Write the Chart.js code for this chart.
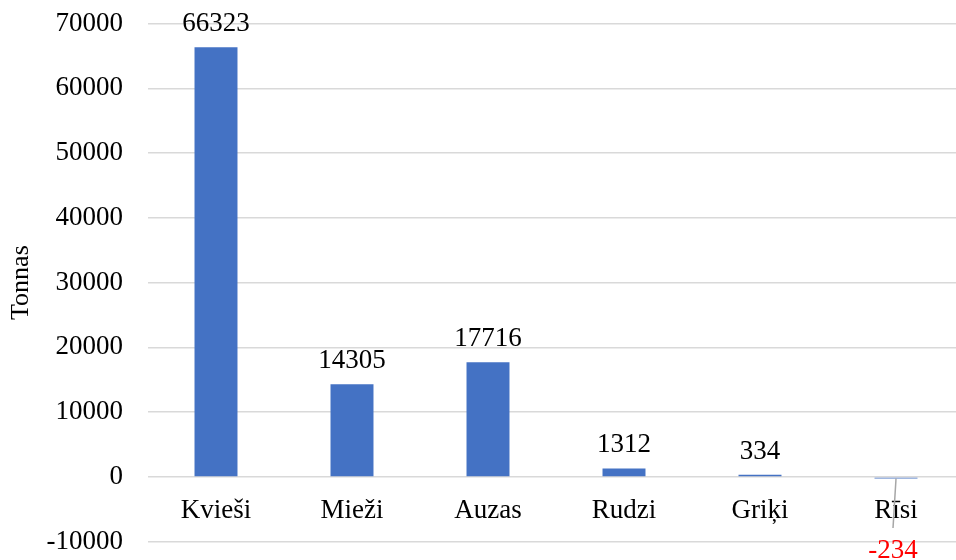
<!DOCTYPE html>
<html lang="lv">

<head>
  <meta charset="utf-8">
  <title>Graudaugi</title>
  <script src="https://cdn.jsdelivr.net/npm/chart.js@4.4.1/dist/chart.umd.min.js"></script>
  <style>
    html, body { margin: 0; padding: 0; overflow: hidden; background: #fff; }
    .chart-box { width: 966px; height: 560px; }
  </style>
</head>

<body>
  <div class="chart-box">
    <canvas id="grainChart"></canvas>
  </div>

  <script type="text/javascript">
    var categories = ['Kvieši', 'Mieži', 'Auzas', 'Rudzi', 'Griķi', 'Rīsi'];
    var tonnes = [66323, 14305, 17716, 1312, 334, -234];
    var yTicks = [-10000, 0, 10000, 20000, 30000, 40000, 50000, 60000, 70000];

    var serif = '"Liberation Serif", "Times New Roman", serif';

    // labels above the bars, negative one below with a leader line
    var barLabels = {
      id: 'barLabels',
      afterDatasetsDraw: function (chart) {
        var ctx = chart.ctx;
        var meta = chart.getDatasetMeta(0);
        var zeroY = chart.scales.y.getPixelForValue(0);
        ctx.save();
        ctx.font = '27px ' + serif;
        ctx.textAlign = 'center';
        ctx.textBaseline = 'alphabetic';
        meta.data.forEach(function (bar, i) {
          var v = tonnes[i];
          if (v >= 0) {
            ctx.fillStyle = '#000';
            ctx.fillText(String(v), bar.x, bar.y - 16);
          } else {
            ctx.strokeStyle = '#a6a6a6';
            ctx.lineWidth = 1.5;
            ctx.beginPath();
            ctx.moveTo(bar.x, bar.y);
            ctx.lineTo(bar.x - 3, zeroY + 51);
            ctx.stroke();
            ctx.fillStyle = '#ff0000';
            ctx.fillText(String(v), bar.x - 3, zeroY + 81);
          }
        });
        ctx.restore();
      }
    };

    new Chart(document.getElementById('grainChart').getContext('2d'), {
      type: 'bar',
      data: {
        labels: categories,
        datasets: [{
          label: 'Tonnas',
          data: tonnes,
          backgroundColor: '#4472c4',
          borderWidth: 0,
          categoryPercentage: 1,
          barPercentage: 0.316
        }]
      },
      options: {
        responsive: true,
        maintainAspectRatio: false,
        animation: false,
        layout: { padding: { top: 23.5, bottom: 18.3, left: 0, right: 2 } },
        plugins: {
          legend: { display: false },
          tooltip: { enabled: false }
        },
        scales: {
          x: {
            position: { y: 0 },
            afterFit: function (scale) {
              scale.height = 0;
              scale.paddingTop = 0;
              scale.paddingBottom = 0;
            },
            grid: { display: false, drawTicks: false },
            border: { display: false },
            ticks: {
              color: '#000',
              padding: 18,
              font: { family: serif, size: 27 }
            }
          },
          y: {
            min: -10000,
            max: 70000,
            afterBuildTicks: function (scale) {
              scale.ticks = yTicks.map(function (v) { return { value: v }; });
            },
            afterFit: function (scale) {
              scale.width = 148;
              scale.paddingTop = 0;
              scale.paddingBottom = 0;
            },
            grid: { color: '#d9d9d9', lineWidth: 1.5, drawTicks: false },
            border: { display: false },
            ticks: {
              color: '#000',
              padding: 25,
              font: { family: serif, size: 27 },
              callback: function (v) { return String(v); }
            },
            title: {
              display: true,
              text: 'Tonnas',
              color: '#000',
              padding: { top: 6, bottom: 4 },
              font: { family: serif, size: 26 }
            }
          }
        }
      },
      plugins: [barLabels]
    });
  </script>
</body>

</html>
